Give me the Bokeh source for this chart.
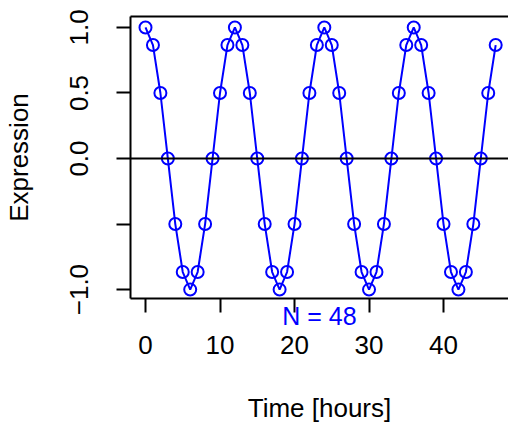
from bokeh.plotting import figure
from bokeh.models import Range1d, Span, FixedTicker, LinearAxis
from bokeh.embed import file_html
from bokeh.resources import INLINE

hours = list(range(48))
expression = [1.0, 0.866, 0.5, 0.0, -0.5, -0.866, -1.0, -0.866, -0.5, 0.0, 0.5, 0.866,
              1.0, 0.866, 0.5, 0.0, -0.5, -0.866, -1.0, -0.866, -0.5, 0.0, 0.5, 0.866,
              1.0, 0.866, 0.5, 0.0, -0.5, -0.866, -1.0, -0.866, -0.5, 0.0, 0.5, 0.866,
              1.0, 0.866, 0.5, 0.0, -0.5, -0.866, -1.0, -0.866, -0.5, 0.0, 0.5, 0.866]
x_ticks = [0, 10, 20, 30, 40]
y_ticks = [-1.0, -0.5, 0.0, 0.5, 1.0]
y_tick_labels = {-1.0: "\u22121.0", -0.5: "", 0.0: "0.0", 0.5: "0.5", 1.0: "1.0"}
note = "N = 48"

FONT = "Liberation Sans"
FS = "26px"
LW = 2

p = figure(width=508, height=425, output_backend="svg", toolbar_location=None,
           x_range=Range1d(-2.013, 48.72), y_range=Range1d(-1.068, 1.0837),
           x_axis_location=None,
           min_border_left=130, min_border_right=0, min_border_top=16, min_border_bottom=124)
p.grid.visible = False
p.outline_line_color = None
p.background_fill_color = "white"

p.add_layout(Span(location=0, dimension="width", line_color="black", line_width=LW))
p.line(hours, expression, line_color="blue", line_width=LW)
p.scatter(hours, expression, marker="circle", size=12, fill_color=None,
          line_color="blue", line_width=LW)

# top edge of the box (the right edge lies outside the picture)
top = LinearAxis(ticker=FixedTicker(ticks=[]))
top.axis_line_color = "black"
top.axis_line_width = LW
top.major_tick_out = 0
top.major_tick_in = 0
top.minor_tick_out = 0
top.minor_tick_in = 0
top.major_label_standoff = 0
p.add_layout(top, "above")

# inner bottom axis: tick marks + the "N = 48" note centred under the frame
xa_in = LinearAxis(ticker=FixedTicker(ticks=[], minor_ticks=x_ticks))
xa_in.axis_line_color = "black"
xa_in.axis_line_width = LW
xa_in.major_tick_out = 0
xa_in.major_tick_in = 0
xa_in.minor_tick_out = 14
xa_in.minor_tick_in = 0
xa_in.minor_tick_line_width = LW
xa_in.minor_tick_line_color = "black"
xa_in.major_label_standoff = 0
xa_in.axis_label = note
xa_in.axis_label_text_color = "blue"
xa_in.axis_label_text_font = FONT
xa_in.axis_label_text_font_size = "25px"
xa_in.axis_label_text_font_style = "normal"
xa_in.axis_label_standoff = -11
p.add_layout(xa_in, "below")

# outer bottom axis: tick labels and the title
xa = LinearAxis(ticker=FixedTicker(ticks=x_ticks))
xa.axis_line_color = None
xa.major_tick_line_color = None
xa.minor_tick_line_color = None
xa.major_tick_out = 0
xa.major_tick_in = 0
xa.axis_label = "Time [hours]"
xa.major_label_standoff = 3
xa.axis_label_standoff = 36
p.add_layout(xa, "below")

ya = p.yaxis[0]
ya.ticker = FixedTicker(ticks=y_ticks)
ya.major_label_overrides = y_tick_labels
ya.axis_label = "Expression"
ya.major_label_orientation = "vertical"
ya.major_tick_out = 14
ya.major_tick_in = 0
ya.minor_tick_out = 0
ya.minor_tick_in = 0
ya.major_tick_line_width = LW
ya.axis_line_width = LW
ya.major_label_standoff = 28
ya.axis_label_standoff = 34

for ax in (xa, ya):
    ax.major_label_text_font = FONT
    ax.major_label_text_font_size = FS
    ax.axis_label_text_font = FONT
    ax.axis_label_text_font_size = FS
    ax.axis_label_text_font_style = "normal"
    ax.major_label_text_color = "black"
    ax.axis_label_text_color = "black"

open("out.html", "w").write(file_html(p, INLINE))
